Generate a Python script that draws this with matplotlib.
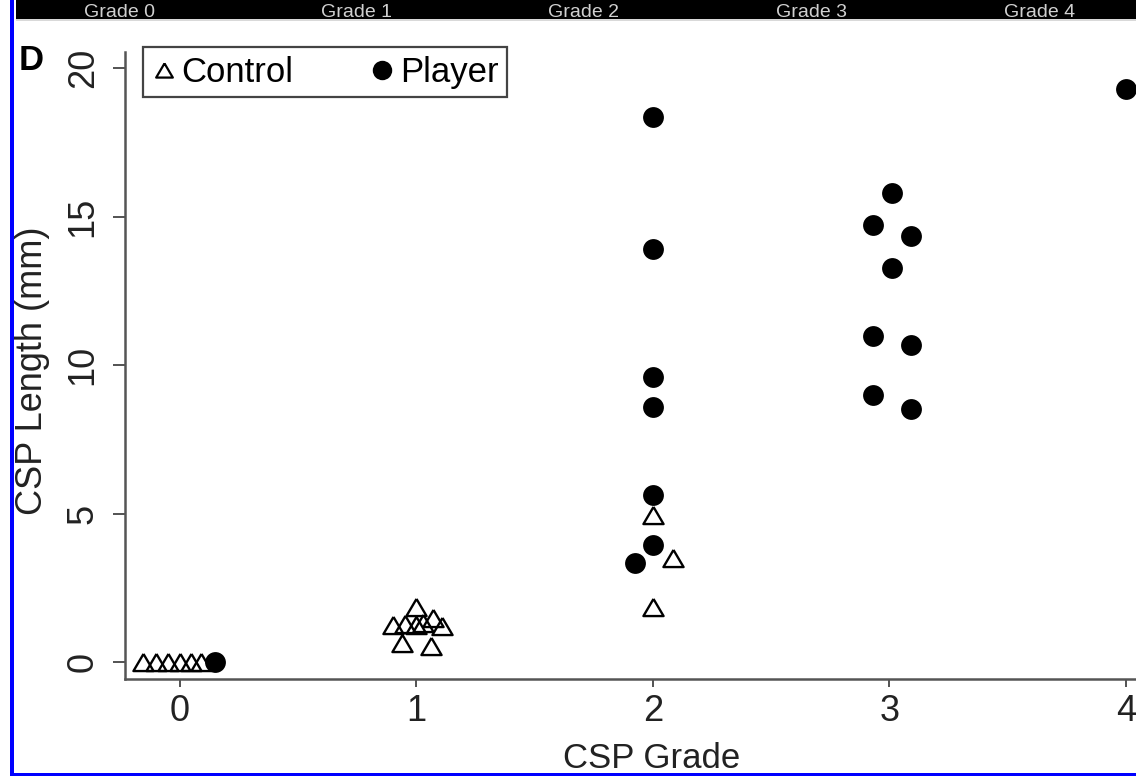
import matplotlib
matplotlib.use('Agg')
import matplotlib.pyplot as plt
from matplotlib.lines import Line2D
from matplotlib.patches import Rectangle

plt.rcParams['font.family'] = ['Liberation Sans', 'DejaVu Sans']

# data (x = grade incl. the plot's jitter, y = length in mm)
control_x = [-0.155, -0.10, -0.05, 0.0, 0.045, 0.09,
             1.0, 0.90, 0.95, 1.0, 1.03, 1.07, 1.11, 0.94, 1.06,
             2.0, 2.084, 2.0]
control_y = [0, 0, 0, 0, 0, 0,
             1.86, 1.25, 1.27, 1.25, 1.30, 1.48, 1.21, 0.63, 0.54,
             4.95, 3.49, 1.86]

player_x = [0.15,
            2.0, 2.0, 2.0, 2.0, 2.0, 2.0, 1.926,
            3.01, 2.93, 3.09, 3.01, 2.93, 3.09, 2.93, 3.09,
            4.0]
player_y = [0,
            18.35, 13.9, 9.6, 8.59, 5.62, 3.94, 3.32,
            15.78, 14.71, 14.34, 13.26, 10.99, 10.67, 8.99, 8.51,
            19.28]

x_ticks = [0, 1, 2, 3, 4]
y_ticks = [0, 5, 10, 15, 20]
header_labels = ['Grade 0', 'Grade 1', 'Grade 2', 'Grade 3', 'Grade 4']

W, H = 1136, 776
fig = plt.figure(figsize=(W / 100, H / 100), dpi=100)

# axes box in pixels: left 125, right 1136, top 52, bottom 679
ax = fig.add_axes([125 / W, 1 - 679 / H, (W - 125) / W, (679 - 52) / H])

tri = [(0, 0.85), (-1, -0.85), (1, -0.85), (0, 0.85)]

ax.plot(control_x, control_y, linestyle='none', marker=tri, ms=14.5,
        mfc='none', mec='black', mew=1.7, zorder=3)
ax.plot(player_x, player_y, linestyle='none', marker='o', ms=15,
        mfc='black', mec='black', mew=0, zorder=4)

ax.set_xlim(-0.232, 4.043)
ax.set_ylim(-0.572, 20.54)
ax.set_xticks(x_ticks)
ax.set_yticks(y_ticks)
ax.set_xticklabels([str(t) for t in x_ticks], fontsize=26, color='#222222')
ax.set_yticklabels([str(t) for t in y_ticks], fontsize=26, color='#222222',
                   rotation=90, va='center')
ax.tick_params(axis='x', length=6, width=1.3, color='#444444', pad=5)
ax.tick_params(axis='y', length=8.5, width=1.3, color='#444444', pad=9)

for s in ['top', 'right']:
    ax.spines[s].set_visible(False)
for s in ['left', 'bottom']:
    ax.spines[s].set_color('#555555')
    ax.spines[s].set_linewidth(1.8)

# axis titles
fig.text(652 / W, 1 - 768 / H, 'CSP Grade', fontsize=25, ha='center',
         va='baseline', color='#222222')
fig.text(33 / W, 1 - 371 / H, 'CSP Length (mm)', fontsize=26, rotation=90,
         ha='center', va='center', color='#222222')
fig.text(19 / W, 1 - 70 / H, 'D', fontsize=25, fontweight='bold',
         ha='left', va='baseline', color='black')

# legend
h_ctrl = Line2D([], [], linestyle='none', marker=tri, ms=12, mfc='none',
                mec='black', mew=1.6)
h_play = Line2D([], [], linestyle='none', marker='o', ms=14, mfc='black',
                mec='black', mew=0)
leg = fig.legend([h_ctrl, h_play], ['Control', 'Player'], ncol=2,
                 loc='upper left', mode='expand',
                 bbox_to_anchor=(143 / W, 1 - 102 / H, 364 / W, 55 / H),
                 bbox_transform=fig.transFigure, borderaxespad=0,
                 fontsize=25, handlelength=0.7, handletextpad=0.15,
                 columnspacing=1.0, borderpad=0.25, fancybox=False,
                 framealpha=1, edgecolor='#444444')
leg.get_frame().set_linewidth(1.6)

# cropped header bar of the neighbouring panel
fig.patches.append(Rectangle((16 / W, 1 - 19 / H), 1 - 16 / W, 19 / H,
                             transform=fig.transFigure, facecolor='black',
                             edgecolor='none', zorder=5))
fig.patches.append(Rectangle((16 / W, 1 - 21 / H), 1 - 16 / W, 2 / H,
                             transform=fig.transFigure, facecolor='#d9d9d9',
                             edgecolor='none', zorder=5))
for cx, lab in zip([120, 356, 583, 811, 1040], header_labels):
    fig.text(cx / W, 1 - 17 / H, lab, fontsize=14, ha='center', va='baseline',
             color='#d0d0d0', zorder=6)

# blue frame lines
fig.patches.append(Rectangle((10 / W, 0), 3.5 / W, 1, transform=fig.transFigure,
                             facecolor='#0000ff', edgecolor='none', zorder=7))
fig.patches.append(Rectangle((10 / W, 0), 1, 3.5 / H, transform=fig.transFigure,
                             facecolor='#0000ff', edgecolor='none', zorder=7))

fig.savefig('out.png', dpi=100)
